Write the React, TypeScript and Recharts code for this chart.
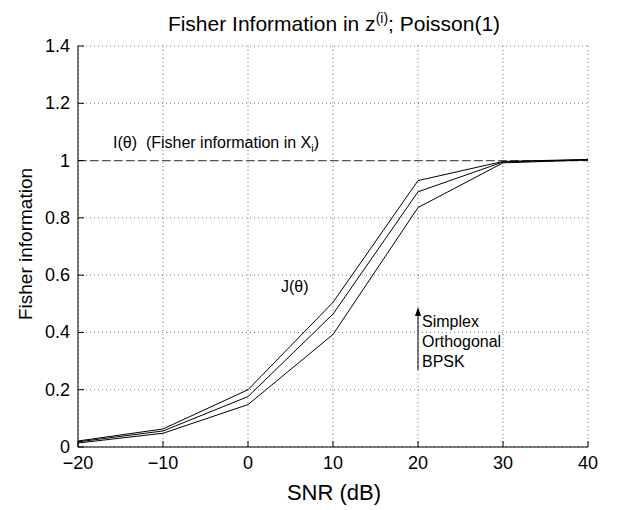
import React from 'react';
import { LineChart, Line, XAxis, YAxis, CartesianGrid, ReferenceLine } from 'recharts';

const snr = [-20, -10, 0, 10, 20, 30, 40];
const simplex = [0.021, 0.063, 0.2, 0.505, 0.93, 0.997, 1.004];
const orthogonal = [0.018, 0.056, 0.176, 0.464, 0.891, 0.995, 1.003];
const bpsk = [0.014, 0.048, 0.148, 0.393, 0.836, 0.992, 1.002];
const fisherInX = 1;

const xTicks = [-20, -10, 0, 10, 20, 30, 40];
const yTicks = [0, 0.2, 0.4, 0.6, 0.8, 1, 1.2, 1.4];

const data = snr.map((s, i) => ({
  snr: s,
  simplex: simplex[i],
  orthogonal: orthogonal[i],
  bpsk: bpsk[i],
}));

const FONT = '"Liberation Sans", Arial, sans-serif';
const fmt = (v: number) => String(v).replace('-', '\u2212');

const BottomTick = (props: any) => {
  const { x, y, payload } = props;
  return (
    <g>
      <line x1={x} x2={x} y1={y - 4} y2={y - 10} stroke="#000" />
      <text x={x} y={y + 18} textAnchor="middle" fontSize={18} fontFamily={FONT} fill="#000">
        {fmt(payload.value)}
      </text>
    </g>
  );
};

const TopTick = (props: any) => {
  const { x, y } = props;
  return <line x1={x} x2={x} y1={y + 4} y2={y + 10} stroke="#000" />;
};

const LeftTick = (props: any) => {
  const { x, y, payload } = props;
  return (
    <g>
      <line x1={x + 4} x2={x + 10} y1={y} y2={y} stroke="#000" />
      <text x={x - 4} y={y + 6} textAnchor="end" fontSize={18} fontFamily={FONT} fill="#000">
        {fmt(payload.value)}
      </text>
    </g>
  );
};

const RightTick = (props: any) => {
  const { x, y } = props;
  return <line x1={x - 4} x2={x - 10} y1={y} y2={y} stroke="#000" />;
};

const txt: React.CSSProperties = {
  position: 'absolute',
  fontFamily: FONT,
  color: '#000',
  whiteSpace: 'nowrap',
  lineHeight: 1,
};

export default function App() {
  return (
    <div style={{ position: 'absolute', left: 0, top: 0, width: 625, height: 510, background: '#fff' }}>
      <LineChart
        width={625}
        height={510}
        data={data}
        margin={{ top: 46, right: 37, bottom: 0, left: 0 }}
      >
        <CartesianGrid stroke="#777" strokeDasharray="1 3" />
        <XAxis
          dataKey="snr"
          type="number"
          domain={[-20, 40]}
          ticks={xTicks}
          height={63}
          tickSize={0}
          tickMargin={4}
          tick={<BottomTick />}
          axisLine={{ stroke: '#000' }}
          interval={0}
        />
        <XAxis
          xAxisId="top"
          orientation="top"
          dataKey="snr"
          type="number"
          domain={[-20, 40]}
          ticks={xTicks}
          height={0}
          tickSize={0}
          tickMargin={-4}
          tick={<TopTick />}
          axisLine={{ stroke: '#000' }}
          interval={0}
        />
        <YAxis
          type="number"
          domain={[0, 1.4]}
          ticks={yTicks}
          width={78}
          tickSize={0}
          tickMargin={4}
          tick={<LeftTick />}
          axisLine={{ stroke: '#000' }}
          interval={0}
        />
        <YAxis
          yAxisId="right"
          orientation="right"
          type="number"
          domain={[0, 1.4]}
          ticks={yTicks}
          width={0}
          tickSize={0}
          tickMargin={-4}
          tick={<RightTick />}
          axisLine={{ stroke: '#000' }}
          interval={0}
        />
        <ReferenceLine y={fisherInX} stroke="#555" strokeDasharray="8 4" strokeWidth={1.2} />
        <Line dataKey="simplex" stroke="#000" strokeWidth={1} dot={false} isAnimationActive={false} />
        <Line dataKey="orthogonal" stroke="#000" strokeWidth={1} dot={false} isAnimationActive={false} />
        <Line dataKey="bpsk" stroke="#000" strokeWidth={1} dot={false} isAnimationActive={false} />
      </LineChart>

      <div style={{ ...txt, left: 0, width: 668, top: 11, textAlign: 'center', fontSize: 21 }}>
        Fisher Information in z<sup style={{ fontSize: 14 }}>(i)</sup>; Poisson(1)
      </div>
      <div style={{ ...txt, left: 0, width: 668, top: 482, textAlign: 'center', fontSize: 22 }}>
        SNR (dB)
      </div>
      <div
        style={{
          ...txt,
          left: 25,
          top: 244,
          fontSize: 19,
          transform: 'translate(-50%, -50%) rotate(-90deg)',
        }}
      >
        Fisher information
      </div>
      <div style={{ ...txt, left: 113, top: 135, fontSize: 16 }}>
        I(θ)&nbsp;&nbsp;(Fisher information in X<sub style={{ fontSize: 11 }}>i</sub>)
      </div>
      <div style={{ ...txt, left: 281, top: 279, fontSize: 16 }}>J(θ)</div>
      <svg style={{ position: 'absolute', left: 0, top: 0 }} width={625} height={510}>
        <line x1={418} x2={418} y1={370} y2={314} stroke="#000" strokeWidth={1} />
        <polygon points="418,307 415,316 421,316" fill="#000" />
      </svg>
      <div style={{ ...txt, left: 422, top: 312, fontSize: 16, lineHeight: '20px' }}>
        Simplex
        <br />
        Orthogonal
        <br />
        BPSK
      </div>
    </div>
  );
}
